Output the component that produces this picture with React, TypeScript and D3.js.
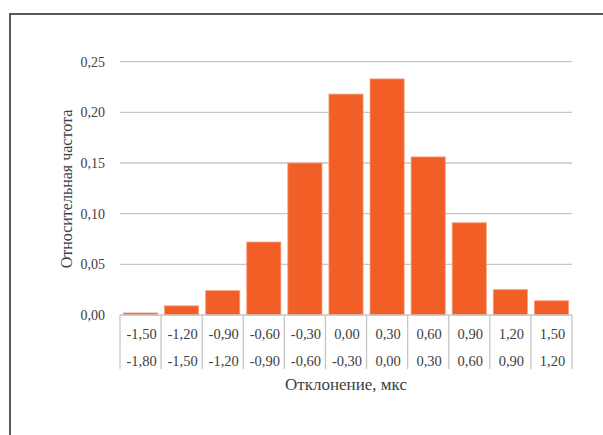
import React from "react";
import * as d3 from "d3";

const upperBounds = ["-1,50", "-1,20", "-0,90", "-0,60", "-0,30", "0,00", "0,30", "0,60", "0,90", "1,20", "1,50"];
const lowerBounds = ["-1,80", "-1,50", "-1,20", "-0,90", "-0,60", "-0,30", "0,00", "0,30", "0,60", "0,90", "1,20"];
const frequencies = [0.002, 0.009, 0.024, 0.072, 0.150, 0.218, 0.233, 0.156, 0.091, 0.025, 0.014];
const yTicks = [0, 0.05, 0.1, 0.15, 0.2, 0.25];
const yTitle = "Относительная частота";
const xTitle = "Отклонение, мкс";

const W = 603, H = 435;
const left = 120, right = 572, top = 61.7, bottom = 315;

export default function App() {
  const keys = upperBounds.map((_, i) => String(i));
  const x = d3.scaleBand<string>().domain(keys).range([left, right]).paddingInner(0.17).paddingOuter(0.085);
  const xs = d3.scaleBand<string>().domain(keys).range([left, right]).padding(0);
  const y = d3.scaleLinear().domain([0, 0.25]).range([bottom, top]);
  const fmt = (v: number) => d3.format(".2f")(v).replace(".", ",");
  const font = "'Liberation Serif', 'Times New Roman', serif";
  const tc = "#404040";
  return (
    <svg width={W} height={H} style={{ position: "absolute", left: 0, top: 0 }} fontFamily={font}>
      <rect x={0} y={0} width={W} height={H} fill="#fff" />
      <rect x={10} y={14} width={W + 20} height={H + 20} fill="none" stroke="#595959" strokeWidth={2} />
      {yTicks.map((t) => (
        <g key={t}>
          {t > 0 && <line x1={left} x2={right} y1={y(t)} y2={y(t)} stroke="#c6c6c6" strokeWidth={1.3} />}
          <text x={105} y={y(t)} dy="0.35em" textAnchor="end" fontSize={14} fill={tc}>{fmt(t)}</text>
        </g>
      ))}
      {frequencies.map((f, i) => (
        <rect key={i} x={x(String(i))} y={y(f)} width={x.bandwidth()} height={bottom - y(f)} fill="#f25f26" stroke="#f79a74" strokeWidth={0.8} />
      ))}
      <line x1={left} x2={right} y1={bottom} y2={bottom} stroke="#c6c6c6" strokeWidth={1.3} />
      {keys.map((k) => (
        <line key={"s" + k} x1={xs(k)} x2={xs(k)} y1={bottom} y2={369} stroke="#c6c6c6" strokeWidth={1.3} />
      ))}
      <line x1={right} x2={right} y1={bottom} y2={369} stroke="#c6c6c6" strokeWidth={1.3} />
      {keys.map((k, i) => (
        <g key={"l" + k}>
          <text x={xs(k)! + xs.bandwidth() / 2 + 1} y={334} dy="0.35em" textAnchor="middle" fontSize={14.5} fill={tc}>{upperBounds[i]}</text>
          <text x={xs(k)! + xs.bandwidth() / 2 + 1} y={361} dy="0.35em" textAnchor="middle" fontSize={14.5} fill={tc}>{lowerBounds[i]}</text>
        </g>
      ))}
      <text x={(left + right) / 2} y={384} dy="0.35em" textAnchor="middle" fontSize={17} fill={tc}>{xTitle}</text>
      <text transform={`translate(66,189) rotate(-90)`} dy="0.35em" textAnchor="middle" fontSize={16} fill={tc}>{yTitle}</text>
    </svg>
  );
}
